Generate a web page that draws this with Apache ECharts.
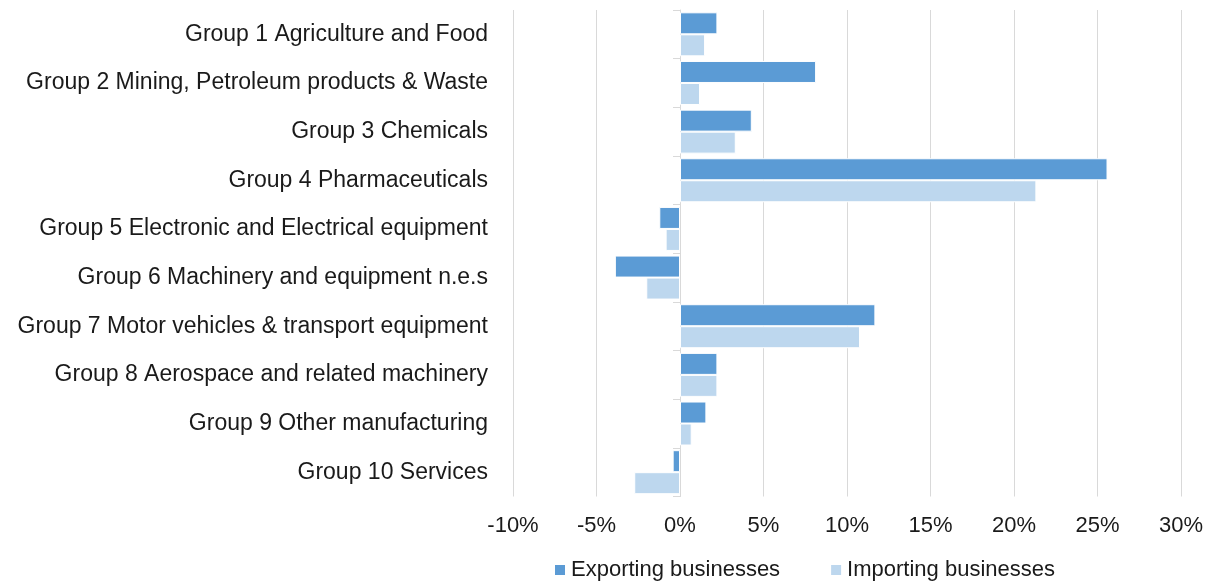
<!DOCTYPE html>
<html>
<head>
<meta charset="utf-8">
<script src="https://cdn.jsdelivr.net/npm/echarts@6/dist/echarts.min.js"></script>
<style>html,body{margin:0;padding:0;background:#fff}#c{width:1214px;height:586px}</style>
</head>
<body>
<div id="c"></div>
<script>
const categories = [
  "Group 1 Agriculture and Food",
  "Group 2 Mining, Petroleum products & Waste",
  "Group 3 Chemicals",
  "Group 4 Pharmaceuticals",
  "Group 5 Electronic and Electrical equipment",
  "Group 6 Machinery and equipment n.e.s",
  "Group 7 Motor vehicles & transport equipment",
  "Group 8 Aerospace and related machinery",
  "Group 9 Other manufacturing",
  "Group 10 Services"
];
const exporting = [2.24, 8.15, 4.3, 25.6, -1.24, -3.9, 11.7, 2.24, 1.58, -0.44];
const importing = [1.5, 1.2, 3.34, 21.34, -0.86, -2.02, 10.78, 2.24, 0.7, -2.74];
const seriesNames = ["Exporting businesses", "Importing businesses"];
const xMin = -10, xMax = 30, xStep = 5;

const chart = echarts.init(document.getElementById('c'), null, {renderer: 'canvas'});
const font = "'Liberation Sans', Arial, sans-serif";
const txt = '#1a1a1a';
chart.setOption({
  animation: false,
  textStyle: {fontFamily: font},
  grid: {left: 513, right: 33, top: 10, bottom: 89.5, containLabel: false},
  legend: {
    bottom: 0, left: 548,
    itemWidth: 12, itemHeight: 12, itemGap: 49,
    icon: 'rect',
    textStyle: {fontSize: 22, color: txt, fontFamily: font},
    data: seriesNames
  },
  xAxis: {
    type: 'value', min: xMin, max: xMax, interval: xStep,
    axisLabel: {formatter: '{value}%', fontSize: 22, color: txt, margin: 18, fontFamily: font},
    axisLine: {show: false}, axisTick: {show: false},
    splitLine: {show: true, lineStyle: {color: '#d9d9d9', width: 1}}
  },
  yAxis: [
    {
      type: 'category', data: categories, inverse: true,
      axisLine: {show: true, onZero: true, lineStyle: {color: '#d9d9d9', width: 1}},
      axisTick: {show: true, inside: false, length: 7, lineStyle: {color: '#d9d9d9'}},
      axisLabel: {show: false}
    },
    {
      type: 'category', data: categories, inverse: true, position: 'left',
      axisLine: {show: false, onZero: false}, axisTick: {show: false},
      axisLabel: {fontSize: 23, color: txt, margin: 25, fontFamily: font}
    }
  ],
  series: [
    {
      name: seriesNames[0], type: 'bar', data: exporting, yAxisIndex: 0,
      barWidth: 22, barGap: '0%',
      itemStyle: {color: '#5B9BD5', borderColor: '#ffffff', borderWidth: 1}
    },
    {
      name: seriesNames[1], type: 'bar', data: importing, yAxisIndex: 0,
      barWidth: 22, barGap: '0%',
      itemStyle: {color: '#BDD7EE', borderColor: '#ffffff', borderWidth: 1}
    }
  ]
});
</script>
</body>
</html>
